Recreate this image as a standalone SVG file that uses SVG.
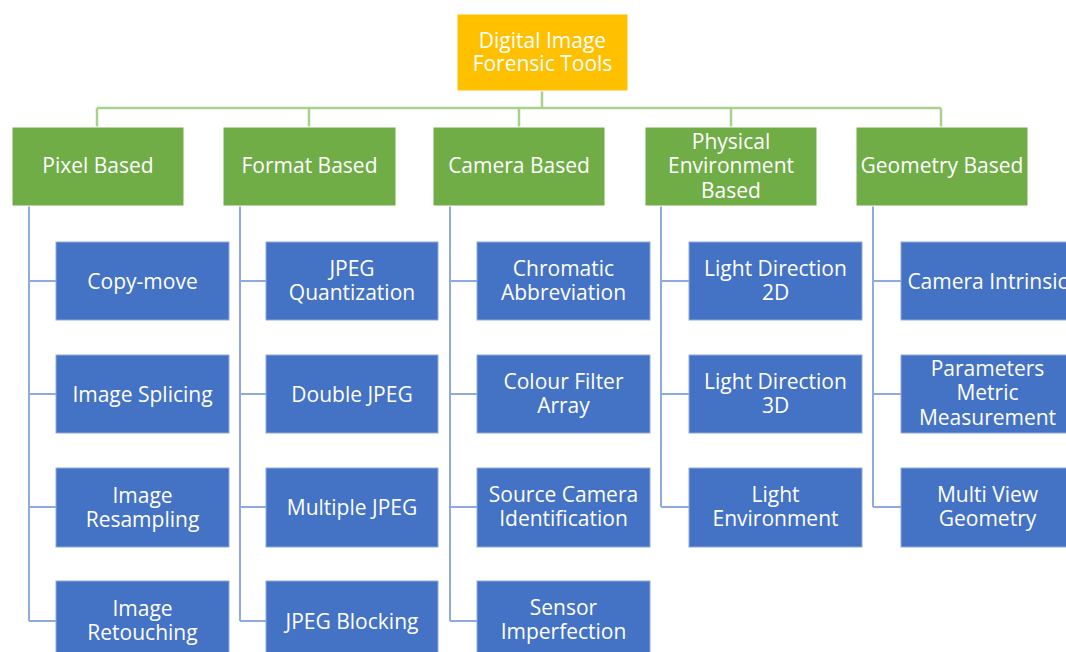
<svg xmlns="http://www.w3.org/2000/svg" width="1066" height="652" viewBox="0 0 1066 652">
<style>
.root{fill:#FFC000;stroke:#ffffff;stroke-width:1}
.cat{fill:#70AD47;stroke:#ffffff;stroke-width:1}
.leaf{fill:#4472C4;stroke:#8FAADC;stroke-width:1}
text{font-family:"Open Sans","DejaVu Sans",sans-serif;fill:#ffffff;text-anchor:middle;dominant-baseline:central}
.t1{font-size:21px}
.t2{font-size:21px}
.gl{stroke:#A9D18E;stroke-width:2.5;fill:none}
.bl{stroke:#8FAADC;stroke-width:2;fill:none}
</style>
<rect width="1066" height="652" fill="#ffffff"/>
<g id="connectors">
<path class="gl" d="M542 91V108M97 108H941M97 108V127M309 108V127M519 108V127M731 108V127M941 108V127"/>
<path class="bl" d="M29 206V621M29 281H56M29 394H56M29 507H56M29 621H56"/>
<path class="bl" d="M240 206V621M240 281H266M240 394H266M240 507H266M240 621H266"/>
<path class="bl" d="M450 206V621M450 281H477M450 394H477M450 507H477M450 621H477"/>
<path class="bl" d="M661 206V507M661 281H689M661 394H689M661 507H689"/>
<path class="bl" d="M873 206V507M873 281H901M873 394H901M873 507H901"/>
</g>
<g id="root"><rect class="root" x="457" y="14" width="171" height="77"/><text class="t1" x="542.5" y="40">Digital Image</text><text class="t1" x="542.5" y="63">Forensic Tools</text></g>
<g id="pixel"><rect class="cat" x="12" y="127" width="172" height="79"/><text class="t1" x="98" y="165">Pixel Based</text></g>
<g id="format"><rect class="cat" x="223" y="127" width="173" height="79"/><text class="t1" x="309.5" y="165">Format Based</text></g>
<g id="camera"><rect class="cat" x="433" y="127" width="172" height="79"/><text class="t1" x="519" y="165">Camera Based</text></g>
<g id="physical"><rect class="cat" x="645" y="127" width="172" height="79"/><text class="t1" x="731" y="141">Physical</text><text class="t1" x="731" y="165">Environment</text><text class="t1" x="731" y="190">Based</text></g>
<g id="geometry"><rect class="cat" x="856" y="127" width="172" height="79"/><text class="t1" x="942" y="165">Geometry Based</text></g>

<g id="copymove"><rect class="leaf" x="56" y="242" width="173" height="78"/><text class="t2" x="142.5" y="281">Copy-move</text></g>
<g id="splicing"><rect class="leaf" x="56" y="355" width="173" height="78"/><text class="t2" x="142.5" y="394">Image Splicing</text></g>
<g id="resampling"><rect class="leaf" x="56" y="468" width="173" height="79"/><text class="t2" x="142.5" y="495">Image</text><text class="t2" x="142.5" y="519">Resampling</text></g>
<g id="retouching"><rect class="leaf" x="56" y="581" width="173" height="79"/><text class="t2" x="142.5" y="608">Image</text><text class="t2" x="142.5" y="632">Retouching</text></g>

<g id="jpegq"><rect class="leaf" x="266" y="242" width="172" height="78"/><text class="t2" x="352" y="268">JPEG</text><text class="t2" x="352" y="292">Quantization</text></g>
<g id="doublejpeg"><rect class="leaf" x="266" y="355" width="172" height="78"/><text class="t2" x="352" y="394">Double JPEG</text></g>
<g id="multijpeg"><rect class="leaf" x="266" y="468" width="172" height="79"/><text class="t2" x="352" y="507">Multiple JPEG</text></g>
<g id="jpegblock"><rect class="leaf" x="266" y="581" width="172" height="79"/><text class="t2" x="352" y="621">JPEG Blocking</text></g>

<g id="chromatic"><rect class="leaf" x="477" y="242" width="173" height="78"/><text class="t2" x="563.5" y="268">Chromatic</text><text class="t2" x="563.5" y="292">Abbreviation</text></g>
<g id="cfa"><rect class="leaf" x="477" y="355" width="173" height="78"/><text class="t2" x="563.5" y="381">Colour Filter</text><text class="t2" x="563.5" y="405">Array</text></g>
<g id="sourcecam"><rect class="leaf" x="477" y="468" width="173" height="79"/><text class="t2" x="563.5" y="494">Source Camera</text><text class="t2" x="563.5" y="518">Identification</text></g>
<g id="sensor"><rect class="leaf" x="477" y="581" width="173" height="79"/><text class="t2" x="563.5" y="607">Sensor</text><text class="t2" x="563.5" y="631">Imperfection</text></g>

<g id="light2d"><rect class="leaf" x="689" y="242" width="173" height="78"/><text class="t2" x="775.5" y="268">Light Direction</text><text class="t2" x="775.5" y="292">2D</text></g>
<g id="light3d"><rect class="leaf" x="689" y="355" width="173" height="78"/><text class="t2" x="775.5" y="381">Light Direction</text><text class="t2" x="775.5" y="405">3D</text></g>
<g id="lightenv"><rect class="leaf" x="689" y="468" width="173" height="79"/><text class="t2" x="775.5" y="494">Light</text><text class="t2" x="775.5" y="518">Environment</text></g>

<g id="intrinsic"><rect class="leaf" x="901" y="242" width="173" height="78"/><text class="t2" x="987.5" y="281">Camera Intrinsic</text></g>
<g id="metric"><rect class="leaf" x="901" y="355" width="173" height="78"/><text class="t2" x="987.5" y="368">Parameters</text><text class="t2" x="987.5" y="392">Metric</text><text class="t2" x="987.5" y="417">Measurement</text></g>
<g id="multiview"><rect class="leaf" x="901" y="468" width="173" height="79"/><text class="t2" x="987.5" y="494">Multi View</text><text class="t2" x="987.5" y="518">Geometry</text></g>
</svg>
